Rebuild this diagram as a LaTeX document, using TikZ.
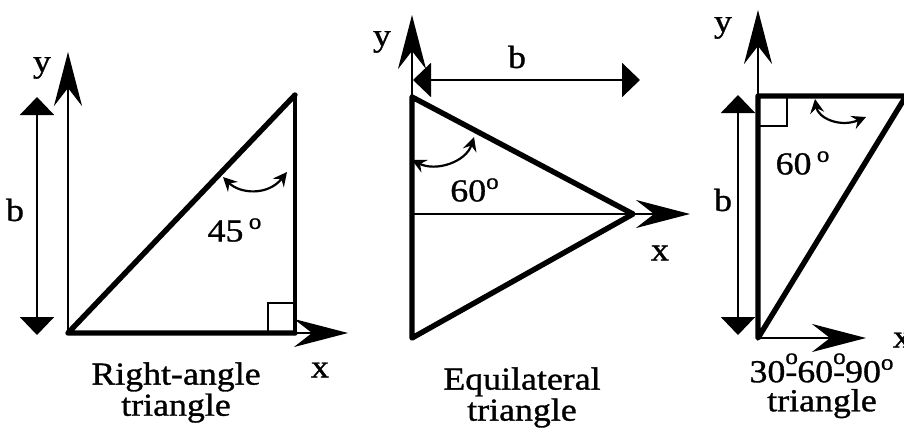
\documentclass[tikz,border=0pt]{standalone}
\usepackage{fontspec}
\setmainfont{Liberation Serif}[FakeStretch=1.12,FakeBold=1]
\usetikzlibrary{arrows.meta,positioning}
\tikzset{
 axisline/.style={line width=1.3pt,-{Stealth[length=27pt,width=14pt,inset=9pt]}},
 side/.style={line width=2.7pt,line cap=round,line join=round},
 dimline/.style={line width=1.1pt,{Triangle[length=9pt,width=17pt]}-{Triangle[length=9pt,width=17pt]}},
 turnline/.style={line width=1.1pt,{Stealth[length=7pt,width=7pt,inset=2.5pt]}-{Stealth[length=7pt,width=7pt,inset=2.5pt]}},
 rbox/.style={line width=1.1pt},
 lbl/.style={font=\fontsize{16}{18}\selectfont,inner sep=0pt},
 captext/.style={font=\fontsize{16}{14.5}\selectfont,inner sep=0pt,align=center,anchor=north}}
\newcommand{\degsign}{\textsuperscript{o}}
\newcommand{\degover}{\rlap{\raisebox{0.18em}{\textsuperscript{o}}}}
\begin{document}
\begin{tikzpicture}[x=0.5pt,y=-0.5pt]
\useasboundingbox (0,0) rectangle (904,439);
% right-angle triangle
\coordinate (o1) at (68,333);
\coordinate (r1) at (295,333);
\coordinate (t1) at (295,95);
\coordinate (ytip1) at (68,52);
\coordinate (xtip1) at (348,333);
\coordinate (btop1) at (37,97);
\coordinate (bbot1) at (37,335);
\coordinate (arcA1) at (223,177);
\coordinate (arcB1) at (287,172);
\draw[axisline] (o1) -- (ytip1);
\draw[axisline] (o1) -- (xtip1);
\draw[side] (o1) -- (t1) (o1) -- (r1);
\draw[side,line width=2pt] (r1) -- (t1);
\draw[rbox] (r1) ++(-27,0) |- ++(27,-30);
\draw[dimline] (btop1) -- (bbot1);
\draw[turnline] (arcA1) .. controls (240,194) and (268,196) .. (arcB1);
\node[lbl] (y1) at (42,68) {y};
\node[lbl] (x1) at (320,370) {x};
\node[lbl] (b1) at (15,210) {b};
\node[lbl] (ang1) at (235,230) {45\,\degsign};
\node[captext] (cap1) at (176,362) {Right-angle\\triangle};
% equilateral triangle
\coordinate (t2) at (412,97);
\coordinate (a2) at (633,214);
\coordinate (b2) at (412,338);
\coordinate (m2) at (412,214);
\coordinate (ytip2) at (412,15);
\coordinate (xtip2) at (690,214);
\coordinate (bl2) at (413,80);
\coordinate (br2) at (640,80);
\coordinate (arcA2) at (412,160);
\coordinate (arcB2) at (474,137);
\draw[axisline] (b2) -- (ytip2);
\draw[axisline] (m2) -- (xtip2);
\draw[side] (t2) -- (a2) -- (b2) -- cycle;
\draw[dimline] (bl2) -- (br2);
\draw[turnline] (arcA2) .. controls (436,172) and (466,162) .. (arcB2);
\node[lbl] (y2) at (382,42) {y};
\node[lbl] (x2) at (660,253) {x};
\node[lbl] (b2l) at (517,57) {b};
\node[lbl] (ang2) at (475,190) {60\degsign};
\node[captext] (cap2) at (522,367) {Equilateral\\triangle};
% 30-60-90 triangle
\coordinate (o3) at (758,338);
\coordinate (t3) at (758,96);
\coordinate (r3) at (906,96);
\coordinate (ytip3) at (758,10);
\coordinate (xtip3) at (866,338);
\coordinate (btop3) at (738,95);
\coordinate (bbot3) at (738,335);
\coordinate (arcA3) at (815,99);
\coordinate (arcB3) at (866,117);
\draw[axisline] (o3) -- (ytip3);
\draw[axisline] (o3) -- (xtip3);
\draw[side] (o3) -- (t3) -- (r3) -- cycle;
\draw[rbox] (t3) ++(0,30) -| ++(29,-30);
\draw[dimline] (btop3) -- (bbot3);
\draw[turnline] (arcA3) .. controls (818,118) and (840,128) .. (arcB3);
\node[lbl] (y3) at (723,28) {y};
\node[lbl] (x3) at (902,340) {x};
\node[lbl] (b3) at (723,200) {b};
\node[lbl] (ang3) at (803,163) {60\,\degsign};
\node[captext] (cap3) at (822,353) {30\degover-60\degover-90\degsign\\triangle};
\end{tikzpicture}
\end{document}
